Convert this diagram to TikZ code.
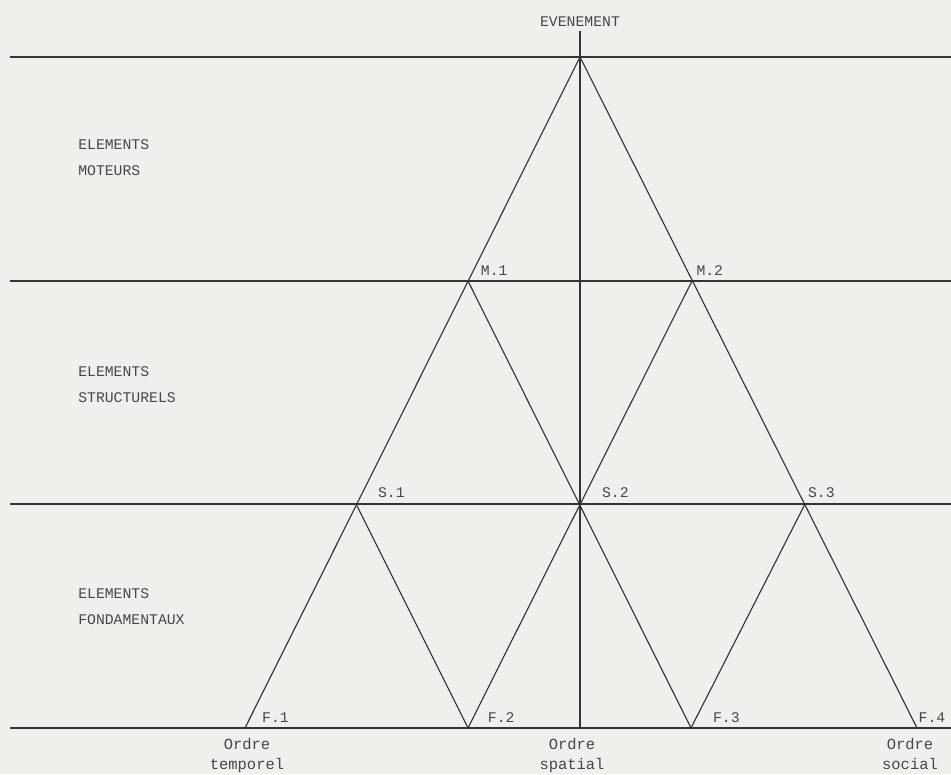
\documentclass[tikz,border=0pt]{standalone}
\usepackage{fontspec}
\setmonofont{Liberation Mono}
\usepackage{tikz}
\usetikzlibrary{positioning}
\definecolor{paper}{HTML}{EFEFEC}
\definecolor{ink}{HTML}{333333}
\definecolor{type}{HTML}{474747}
\tikzset{
  rule/.style={draw=ink, line width=0.95pt},
  edge/.style={draw=ink, line width=0.8pt},
  tag/.style={font=\ttfamily\fontsize{10.5}{12}\selectfont, text=type, inner sep=0pt},
  level/.style={tag, align=left, anchor=north west,
    font=\ttfamily\fontsize{10.5}{18.4}\selectfont},
  order/.style={tag, align=center, anchor=north,
    font=\ttfamily\fontsize{11}{14.2}\selectfont},
}

\begin{document}
\begin{tikzpicture}[x=0.025cm, y=-0.025cm]

  \useasboundingbox[fill=paper] (0,0) rectangle (951,774);

  % level rules
  \foreach \y/\n in {57/0, 281/1, 504/2, 728/3} {
    \coordinate (w\n) at (10,\y);
    \coordinate (e\n) at (951,\y);
    \draw[rule] (w\n) -- (e\n);
  }

  % lattice points
  \coordinate (apex) at (580,57);
  \coordinate (m1) at (468,281);
  \coordinate (m2) at (692,281);
  \coordinate (s1) at (356,504);
  \coordinate (s2) at (580,504);
  \coordinate (s3) at (805,504);
  \coordinate (f1) at (245,728);
  \coordinate (f2) at (468,728);
  \coordinate (f3) at (691,728);
  \coordinate (f4) at (917,728);
  \coordinate (base) at (580,728);

  \node[tag] (evt) at (580,22) {EVENEMENT};

  \draw[edge] (f1) -- (apex) -- (f4);
  \draw[edge] (m1) -- (f3);
  \draw[edge] (m2) -- (f2);
  \draw[edge] (s1) -- (f2);
  \draw[edge] (s3) -- (f3);
  \draw[edge] ([yshift=-3pt]evt.south) -- (base);

  \node[tag, above right=3.5pt and 9pt of m1] (lm1) {M.1};
  \node[tag, above right=3.5pt and 3pt of m2] (lm2) {M.2};
  \node[tag, above right=4pt and 15.5pt of s1] (ls1) {S.1};
  \node[tag, above right=4pt and 15.5pt of s2] (ls2) {S.2};
  \node[tag, above right=4pt and 2pt of s3] (ls3) {S.3};
  \node[tag, above right=3.5pt and 12pt of f1] (lf1) {F.1};
  \node[tag, above right=3.5pt and 14pt of f2] (lf2) {F.2};
  \node[tag, above right=3.5pt and 15.5pt of f3] (lf3) {F.3};
  \node[tag, above right=3.5pt and 1pt of f4] (lf4) {F.4};

  \node[level] (moteurs) at (78,139) {ELEMENTS\\MOTEURS};
  \node[level] (struct) at (78,366) {ELEMENTS\\STRUCTURELS};
  \node[level] (fond) at (78,588) {ELEMENTS\\FONDAMENTAUX};

  \node[order] (otemp) at (247,738) {Ordre\\temporel};
  \node[order] (ospat) at (572,738) {Ordre\\spatial};
  \node[order] (osoc) at (910,738) {Ordre\\social};

\end{tikzpicture}
\end{document}
